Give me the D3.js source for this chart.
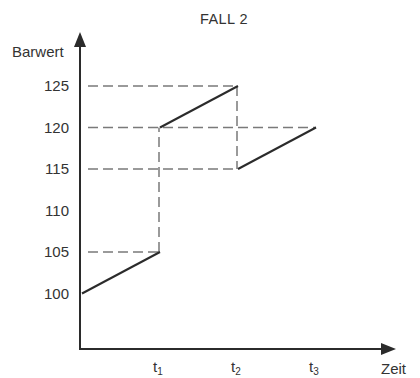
<!DOCTYPE html>
<html>
<head>
<meta charset="utf-8">
<script src="https://cdn.jsdelivr.net/npm/d3@7"></script>
<style>
  body { margin: 0; background: #fff; }
  text { font-family: "Liberation Sans", Arial, sans-serif; fill: #333; }
</style>
</head>
<body>
<div class="Chart"></div>
<script>
// values
const timeTicks = [1, 2, 3];
const timeLabels = ["1", "2", "3"];
const valueTicks = [100, 105, 110, 115, 120, 125];

// solid value segments: [t, value] pairs
const segments = [
  [[0, 100], [1, 105]],
  [[1, 120], [2, 125]],
  [[2, 115], [3, 120]]
];
// dashed jumps at t1 and t2
const jumps = [
  { t: 1, from: 105, to: 120 },
  { t: 2, from: 125, to: 115 }
];
// dashed helper lines from the axis to the time point
const guides = [
  { value: 125, t: 2 },
  { value: 120, t: 3 },
  { value: 115, t: 2 },
  { value: 105, t: 1 }
];

const width = 420, height = 378;
const axisX = 80, axisY = 349;

const svg = d3.select(".Chart")
  .append("svg")
  .attr("width", width)
  .attr("height", height);

const x = d3.scaleLinear().domain([0, 3]).range([82, 316]);
const y = d3.scaleLinear().domain([100, 125]).range([293.5, 86]);

const ink = "#2b2b2b";
const dashInk = "#7a7a7a";

// title
svg.append("text")
  .attr("x", 224)
  .attr("y", 24)
  .attr("text-anchor", "middle")
  .style("font-size", "14.5px")
  .style("letter-spacing", "0.4px")
  .text("FALL 2");

// dashed guides
svg.append("g")
  .selectAll("line")
  .data(guides)
  .join("line")
  .attr("x1", axisX + 8)
  .attr("x2", d => x(d.t))
  .attr("y1", d => y(d.value))
  .attr("y2", d => y(d.value))
  .attr("stroke", dashInk)
  .attr("stroke-width", 1.5)
  .attr("stroke-dasharray", "10,5");

svg.append("g")
  .selectAll("line")
  .data(jumps)
  .join("line")
  .attr("x1", d => x(d.t) - 1)
  .attr("x2", d => x(d.t) - 1)
  .attr("y1", d => y(d.from))
  .attr("y2", d => y(d.to))
  .attr("stroke", dashInk)
  .attr("stroke-width", 1.5)
  .attr("stroke-dasharray", "10,5");

// value lines
const line = d3.line().x(d => x(d[0])).y(d => y(d[1]));
svg.append("g")
  .selectAll("path")
  .data(segments)
  .join("path")
  .attr("d", line)
  .attr("fill", "none")
  .attr("stroke", ink)
  .attr("stroke-width", 2);

// y axis labels
const yAxis = svg.append("g")
  .attr("transform", `translate(${axisX},0)`)
  .call(d3.axisLeft(y).tickValues(valueTicks).tickSize(0).tickPadding(11));
yAxis.select(".domain").remove();
yAxis.selectAll("text")
  .style("font-size", "15px")
  .style("font-family", "'Liberation Sans', Arial, sans-serif")
  .attr("fill", "#333");

// axes with arrows
svg.append("line")
  .attr("x1", axisX).attr("x2", axisX)
  .attr("y1", axisY + 1).attr("y2", 44)
  .attr("stroke", ink).attr("stroke-width", 2);
svg.append("path")
  .attr("d", `M${axisX},32 L${axisX - 6},47 L${axisX + 6},47 Z`)
  .attr("fill", ink);

svg.append("line")
  .attr("x1", axisX - 1).attr("x2", 384)
  .attr("y1", axisY).attr("y2", axisY)
  .attr("stroke", ink).attr("stroke-width", 2);
svg.append("path")
  .attr("d", `M396,${axisY} L381,${axisY - 6} L381,${axisY + 6} Z`)
  .attr("fill", ink);

// axis titles
svg.append("text")
  .attr("x", 12)
  .attr("y", 57)
  .style("font-size", "15px")
  .text("Barwert");

svg.append("text")
  .attr("x", 381)
  .attr("y", 374)
  .style("font-size", "15px")
  .text("Zeit");

// time labels t1, t2, t3
const tLabels = svg.append("g")
  .selectAll("text")
  .data(timeTicks)
  .join("text")
  .attr("x", d => x(d) - 7)
  .attr("y", 372)
  .style("font-size", "15px");
tLabels.append("tspan").text("t");
tLabels.append("tspan")
  .attr("dy", 2.5)
  .style("font-size", "10px")
  .text((d, i) => timeLabels[i]);
</script>
</body>
</html>
